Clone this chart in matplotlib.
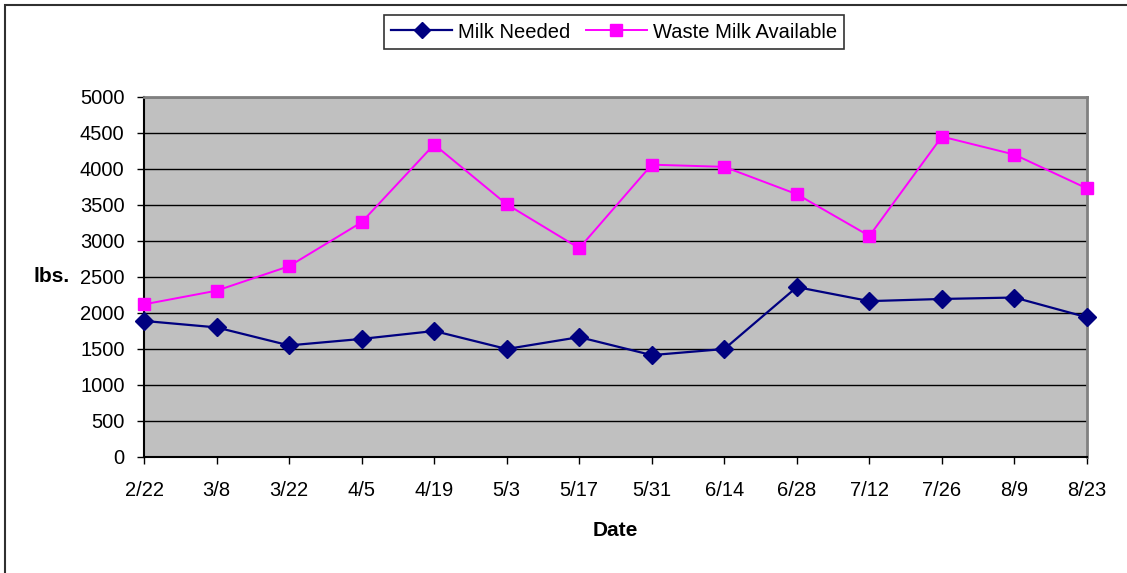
import matplotlib.pyplot as plt
from matplotlib.patches import Rectangle

plt.rcParams['font.family'] = ['Liberation Sans', 'DejaVu Sans']

# data
dates = ['2/22', '3/8', '3/22', '4/5', '4/19', '5/3', '5/17',
         '5/31', '6/14', '6/28', '7/12', '7/26', '8/9', '8/23']
milk_needed = [1890, 1800, 1550, 1640, 1750, 1500, 1665,
               1415, 1500, 2360, 2165, 2195, 2215, 1940]
waste_milk = [2120, 2310, 2650, 3260, 4340, 3510, 2900,
              4060, 4030, 3650, 3070, 4450, 4200, 3730]
y_ticks = [0, 500, 1000, 1500, 2000, 2500, 3000, 3500, 4000, 4500, 5000]

W, H = 1127, 573
fig = plt.figure(figsize=(W / 100, H / 100), dpi=100)

# outer chart border (runs off right/bottom edge like the original)
fig.patches.append(Rectangle((5 / W, -0.1), 1.2, 1 - 5 / H + 0.1,
                             transform=fig.transFigure, fill=False,
                             edgecolor='#303030', linewidth=1.5))

ax = fig.add_axes([144 / W, 1 - 457 / H, (1087 - 144) / W, (457 - 97) / H])
ax.set_facecolor('#C0C0C0')

x = list(range(len(dates)))
ax.plot(x, milk_needed, color='#000080', marker='D', markersize=9,
        linewidth=1.6, label='Milk Needed', clip_on=False, zorder=3)
ax.plot(x, waste_milk, color='#FF00FF', marker='s', markersize=9,
        linewidth=1.4, label='Waste Milk Available', clip_on=False, zorder=3)

ax.set_xlim(0, len(dates) - 1)
ax.set_ylim(0, 5000)
ax.set_xticks(x)
ax.set_xticklabels(dates, fontsize=14.5)
ax.set_yticks(y_ticks)
ax.set_yticklabels([str(v) for v in y_ticks], fontsize=14.5)
ax.tick_params(direction='out', length=5, width=1, color='black')
ax.tick_params(axis='x', pad=12)
ax.tick_params(axis='y', pad=9)

ax.grid(axis='y', color='black', linewidth=1)
ax.set_axisbelow(True)

ax.spines['left'].set_color('black')
ax.spines['bottom'].set_color('black')
ax.spines['left'].set_linewidth(1.5)
ax.spines['bottom'].set_linewidth(1.5)
ax.spines['top'].set_color('#808080')
ax.spines['right'].set_color('#808080')
ax.spines['top'].set_linewidth(2)
ax.spines['right'].set_linewidth(2)

fig.text(52 / W, 1 - 277 / H, 'lbs.', fontsize=15, fontweight='bold',
         ha='center', va='center')
fig.text(615 / W, 1 - 530 / H, 'Date', fontsize=15, fontweight='bold',
         ha='center', va='center')

leg = ax.legend(loc='center', bbox_to_anchor=(614 / W, 1 - 32 / H),
                bbox_transform=fig.transFigure, ncol=2, fontsize=14.5,
                frameon=True, fancybox=False, edgecolor='black',
                handlelength=3, columnspacing=0.8, handletextpad=0.3,
                borderpad=0.35, markerscale=0.9)
leg.get_frame().set_linewidth(1.2)

fig.savefig('out.png', dpi=100)
